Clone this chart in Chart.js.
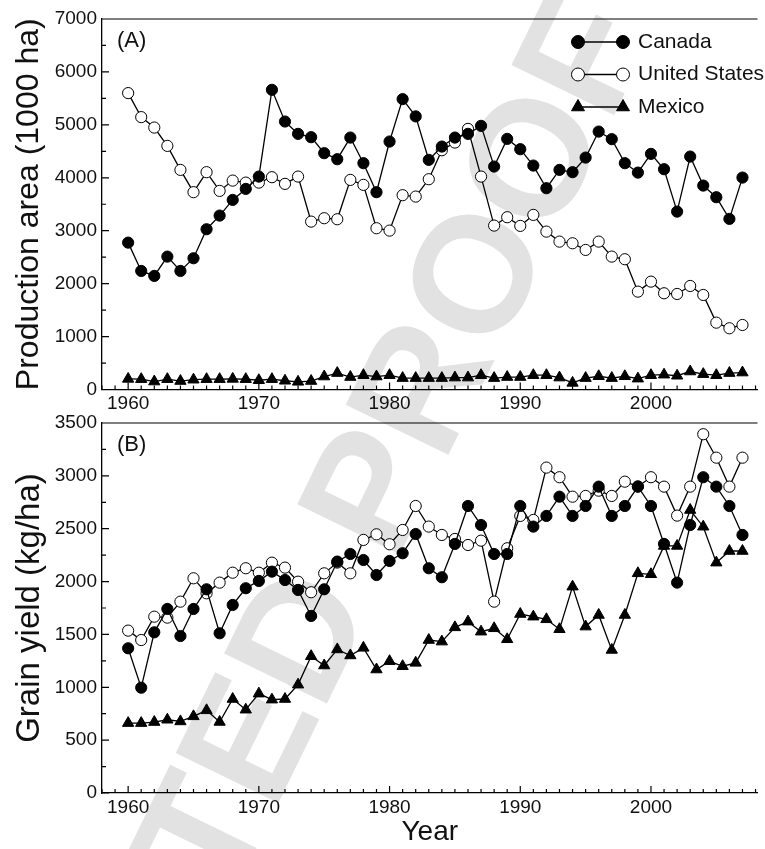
<!DOCTYPE html>
<html>
<head>
<meta charset="utf-8">
<script src="https://cdn.jsdelivr.net/npm/chart.js@4.4.1/dist/chart.umd.min.js"></script>
<style>
  body { margin: 0; background: #fff; }
  #page { position: relative; width: 765px; height: 849px; overflow: hidden; }
  #page canvas { position: absolute; left: 0; }
</style>
</head>
<body>
<div id="page">
  <canvas id="mark" width="765" height="849" style="top:0"></canvas>
  <canvas id="areaChart" width="765" height="415" style="top:0"></canvas>
  <canvas id="yieldChart" width="765" height="449" style="top:400px"></canvas>
</div>
<script>
const years = [1960, 1961, 1962, 1963, 1964, 1965, 1966, 1967, 1968, 1969,
               1970, 1971, 1972, 1973, 1974, 1975, 1976, 1977, 1978, 1979,
               1980, 1981, 1982, 1983, 1984, 1985, 1986, 1987, 1988, 1989,
               1990, 1991, 1992, 1993, 1994, 1995, 1996, 1997, 1998, 1999,
               2000, 2001, 2002, 2003, 2004, 2005, 2006, 2007];

// (A) production area, 1000 ha
const canadaArea = [2775, 2240, 2146, 2511, 2240, 2480, 3028, 3286, 3582, 3790,
                    4023, 5662, 5063, 4830, 4767, 4465, 4351, 4760, 4276, 3728,
                    4685, 5486, 5160, 4338, 4590, 4760, 4830, 4981, 4212, 4735,
                    4540, 4231, 3803, 4149, 4106, 4382, 4873, 4730, 4276, 4098,
                    4452, 4162, 3361, 4401, 3853, 3633, 3223, 4004];
const usArea = [5600, 5146, 4949, 4603, 4149, 3728, 4106, 3752, 3947, 3909,
                3909, 4011, 3885, 4023, 3172, 3236, 3217, 3960, 3866, 3047,
                3002, 3671, 3645, 3973, 4520, 4666, 4924, 4023, 3097, 3255,
                3091, 3299, 2983, 2794, 2763, 2637, 2794, 2511, 2461, 1849,
                2038, 1818, 1805, 1956, 1786, 1263, 1157, 1219];
const mexicoArea = [200, 195, 150, 195, 160, 185, 195, 195, 200, 195,
                    175, 195, 165, 145, 160, 245, 310, 235, 270, 245,
                    270, 215, 215, 215, 215, 225, 225, 270, 215, 235,
                    235, 270, 270, 225, 125, 215, 250, 215, 250, 205,
                    270, 280, 260, 340, 290, 270, 310, 320];

// (B) grain yield, kg/ha
const canadaYield = [1369, 996, 1520, 1741, 1485, 1741, 1927, 1511, 1779, 1937,
                     2006, 2094, 2015, 1921, 1675, 1927, 2189, 2261, 2204, 2062,
                     2195, 2268, 2450, 2126, 2041, 2356, 2715, 2535, 2261, 2261,
                     2715, 2520, 2621, 2803, 2621, 2715, 2898, 2621, 2715, 2898,
                     2715, 2356, 1990, 2535, 2987, 2898, 2715, 2441];
const usYield = [1536, 1447, 1668, 1659, 1810, 2031, 1889, 1990, 2084, 2126,
                 2084, 2179, 2132, 1999, 1899, 2078, 2180, 2078, 2394, 2447,
                 2353, 2488, 2715, 2520, 2441, 2403, 2346, 2387, 1810, 2315,
                 2621, 2583, 3078, 2987, 2803, 2810, 2860, 2810, 2945, 2900,
                 2987, 2898, 2624, 2898, 3394, 3172, 2898, 3172];
const mexicoYield = [661, 661, 671, 693, 677, 725, 782, 672, 889, 788,
                     940, 883, 889, 1025, 1294, 1206, 1358, 1301, 1373, 1168,
                     1247, 1199, 1231, 1447, 1432, 1567, 1621, 1526, 1558, 1454,
                     1693, 1668, 1643, 1549, 1952, 1574, 1684, 1353, 1684, 2078,
                     2069, 2337, 2337, 2677, 2519, 2179, 2289, 2289];

const FONT = '"Liberation Sans", Arial, Helvetica, sans-serif';
const INK = '#111';

// faint proof watermark behind both panels
function drawWatermark() {
    const ctx = document.getElementById('mark').getContext('2d');
    ctx.save();
    ctx.translate(190, 880);
    ctx.rotate(-64 * Math.PI / 180);
    ctx.font = `bold 166px ${FONT}`;
    ctx.fillStyle = '#e2e2e2';
    ctx.textAlign = 'center';
    ctx.textBaseline = 'middle';
    ctx.fillText('UNCORRECTED PROOF', 0, 0);
    ctx.restore();
}

// top frame line + inward tick marks (long on labelled values)
const frameTicks = {
    id: 'frameTicks',
    beforeDatasetsDraw(chart, args, opts) {
        const { ctx, chartArea: a, scales: { x, y } } = chart;
        ctx.save();
        ctx.strokeStyle = '#000';
        ctx.lineWidth = 1.2;
        ctx.beginPath();
        ctx.moveTo(a.left, a.top);
        ctx.lineTo(a.right, a.top);
        x.ticks.forEach(t => {
            if (!Number.isInteger(t.value)) return;
            const px = x.getPixelForValue(t.value);
            const len = t.value % 10 === 0 ? 7 : 4;
            ctx.moveTo(px, a.bottom);
            ctx.lineTo(px, a.bottom - len);
        });
        y.ticks.forEach(t => {
            const py = y.getPixelForValue(t.value);
            const len = t.value % opts.yMajor === 0 ? 7 : 4;
            ctx.moveTo(a.left, py);
            ctx.lineTo(a.left + len, py);
        });
        ctx.stroke();
        ctx.restore();
    }
};

const panelTag = {
    id: 'panelTag',
    afterDraw(chart, args, opts) {
        const { ctx, chartArea: a } = chart;
        ctx.save();
        ctx.font = `22px ${FONT}`;
        ctx.fillStyle = INK;
        ctx.textBaseline = 'middle';
        ctx.fillText(opts.text, a.left + 15, a.top + 22);
        ctx.restore();
    }
};

// marker-line-marker key, as in the printed figure
const seriesKey = {
    id: 'seriesKey',
    afterDraw(chart, args, opts) {
        const { ctx } = chart;
        ctx.save();
        chart.data.datasets.forEach((ds, i) => {
            const yy = opts.top + i * opts.gap;
            ctx.strokeStyle = '#000';
            ctx.lineWidth = 1.3;
            ctx.beginPath();
            ctx.moveTo(opts.x1, yy);
            ctx.lineTo(opts.x2, yy);
            ctx.stroke();
            const style = {
                pointStyle: ds.pointStyle,
                rotation: 0,
                radius: ds.pointStyle === 'triangle' ? 7.5 : 6.5,
                borderWidth: 1
            };
            ctx.fillStyle = ds.pointBackgroundColor;
            ctx.lineWidth = 1;
            Chart.helpers.drawPoint(ctx, style, opts.x1, yy);
            Chart.helpers.drawPoint(ctx, style, opts.x2, yy);
            ctx.fillStyle = INK;
            ctx.font = `21px ${FONT}`;
            ctx.textAlign = 'left';
            ctx.textBaseline = 'middle';
            ctx.fillText(ds.label, opts.textX, yy);
        });
        ctx.restore();
    }
};

function series(label, values, kind) {
    return {
        label: label,
        data: years.map((yr, i) => ({ x: yr, y: values[i] })),
        borderColor: '#000',
        borderWidth: 1.3,
        pointStyle: kind === 'tri' ? 'triangle' : 'circle',
        pointRadius: kind === 'tri' ? 6.5 : 5.6,
        pointBorderWidth: 1,
        pointBorderColor: '#000',
        pointBackgroundColor: kind === 'open' ? '#fff' : '#000',
        tension: 0,
        fill: false
    };
}

function panelOptions(cfg) {
    return {
        responsive: false,
        animation: false,
        events: [],
        layout: { padding: { top: cfg.topPad, left: 0, right: 0, bottom: 0 } },
        plugins: {
            legend: { display: false },
            tooltip: { enabled: false },
            frameTicks: { yMajor: cfg.yMajor },
            panelTag: { text: cfg.tag },
            seriesKey: { x1: 578, x2: 623, textX: 638, top: 42, gap: 32.5 }
        },
        scales: {
            x: {
                type: 'linear',
                min: 1958,
                max: 2008.15,
                grid: { display: false, drawTicks: false },
                border: { display: true, color: '#000', width: 1.3 },
                ticks: {
                    stepSize: 1,
                    includeBounds: false,
                    autoSkip: false,
                    maxRotation: 0,
                    minRotation: 0,
                    padding: 3,
                    color: INK,
                    font: { family: FONT, size: 19 },
                    callback: v => v % 10 === 0 ? String(v) : ''
                },
                title: {
                    display: !!cfg.xTitle,
                    text: cfg.xTitle || '',
                    color: INK,
                    font: { family: FONT, size: 28 },
                    padding: { top: 0, bottom: 0 }
                },
                afterFit: s => { s.height = cfg.xHeight; }
            },
            y: {
                min: 0,
                max: cfg.yMax,
                grid: { display: false, drawTicks: false },
                border: { display: true, color: '#000', width: 1.3 },
                ticks: {
                    stepSize: cfg.yStep,
                    autoSkip: false,
                    padding: 5,
                    color: INK,
                    font: { family: FONT, size: 19 },
                    callback: v => v % cfg.yMajor === 0 ? String(v) : ''
                },
                title: {
                    display: true,
                    text: cfg.yTitle,
                    color: INK,
                    font: { family: FONT, size: cfg.yTitleSize },
                    padding: { top: 10, bottom: 0 }
                },
                afterFit: s => { s.width = 102; }
            }
        }
    };
}

drawWatermark();

new Chart(document.getElementById('areaChart'), {
    type: 'line',
    data: {
        datasets: [
            series('Canada', canadaArea, 'filled'),
            series('United States', usArea, 'open'),
            series('Mexico', mexicoArea, 'tri')
        ]
    },
    options: panelOptions({ topPad: 19, xHeight: 25.5, yMax: 7000, yStep: 500, yMajor: 1000,
                            yTitle: 'Production area (1000 ha)', yTitleSize: 32, tag: '(A)' }),
    plugins: [frameTicks, panelTag, seriesKey]
});

new Chart(document.getElementById('yieldChart'), {
    type: 'line',
    data: {
        datasets: [
            series('Canada', canadaYield, 'filled'),
            series('United States', usYield, 'open'),
            series('Mexico', mexicoYield, 'tri')
        ]
    },
    options: panelOptions({ topPad: 23, xHeight: 56, yMax: 3500, yStep: 250, yMajor: 500,
                            yTitle: 'Grain yield (kg/ha)', yTitleSize: 33, xTitle: 'Year', tag: '(B)' }),
    plugins: [frameTicks, panelTag]
});
</script>
</body>
</html>
